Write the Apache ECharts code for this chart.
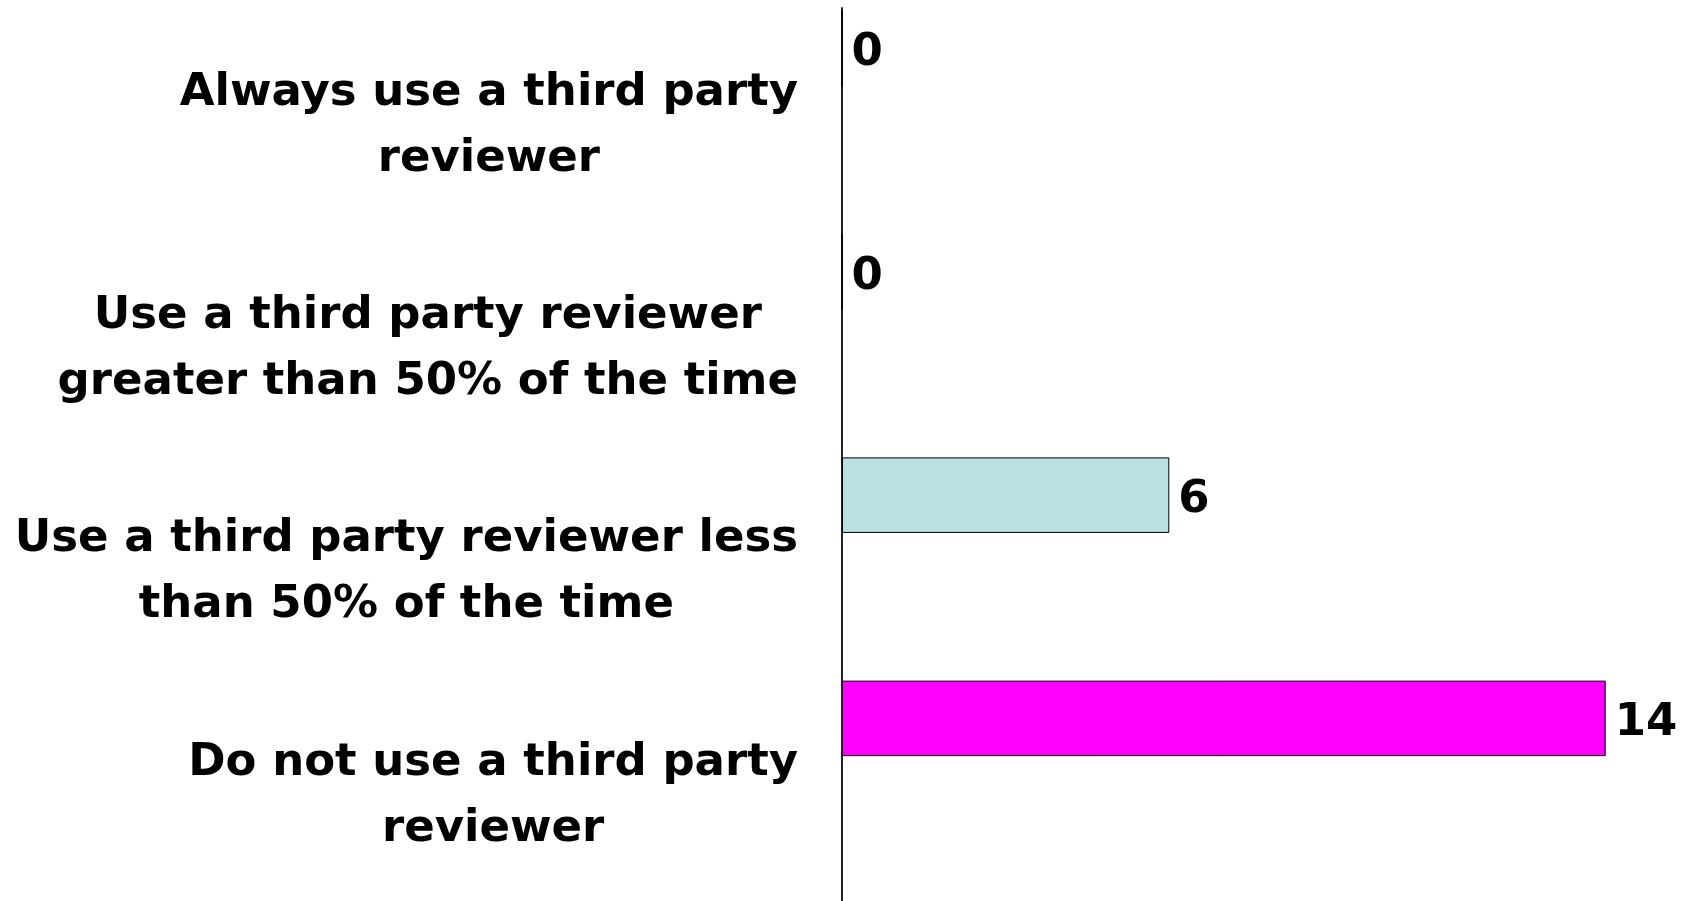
<!DOCTYPE html>
<html>
<head>
<meta charset="utf-8">
<script src="https://cdn.jsdelivr.net/npm/echarts@6/dist/echarts.min.js"></script>
<style>
html,body{margin:0;padding:0;background:#fff;}
#chart{width:1685px;height:901px;}
</style>
</head>
<body>
<div id="chart"></div>
<script>
const categories = [
  'Always use a third party\nreviewer',
  'Use a third party reviewer\ngreater than 50% of the time',
  'Use a third party reviewer less\nthan 50% of the time',
  'Do not use a third party\nreviewer'
];
const values = [0, 0, 6, 14];
const barColors = ['#99CCFF', '#FFFFCC', '#BBE0E3', '#FF00FF'];

const FONT = 'DejaVu Sans';
const chart = echarts.init(document.getElementById('chart'));
chart.setOption({
  animation: false,
  backgroundColor: '#ffffff',
  grid: { left: 842, top: 8, width: 818.25, height: 900, containLabel: false },
  xAxis: {
    type: 'value', min: 0, max: 15, show: false
  },
  yAxis: {
    type: 'category', data: categories, inverse: true,
    axisLine: { show: true, lineStyle: { color: '#222222', width: 2 } },
    axisTick: { show: false },
    splitLine: { show: false },
    axisLabel: {
      margin: 44,
      align: 'right',
      padding: [13, 0, 0, 0],
      formatter: function (v) {
        return v.split('\n').map(function (l) { return '{c|' + l + '}'; }).join('\n');
      },
      rich: {
        c: { align: 'center', fontSize: 45, fontWeight: 'bold', fontFamily: FONT, color: '#000', lineHeight: 66 }
      }
    }
  },
  series: [
    {
      type: 'bar',
      barWidth: 75.5,
      barGap: '88%',
      data: values.map(function (v, i) { return { value: v, itemStyle: { color: barColors[i] } }; }),
      itemStyle: { borderColor: '#000', borderWidth: 1 },
      label: {
        show: true, position: 'right', distance: 9, offset: [0, 5],
        fontSize: 45, fontWeight: 'bold', fontFamily: FONT, color: '#000'
      }
    },
    {
      type: 'bar',
      barWidth: 75.5,
      data: values.map(function () { return null; }),
      silent: true
    }
  ]
});
</script>
</body>
</html>
